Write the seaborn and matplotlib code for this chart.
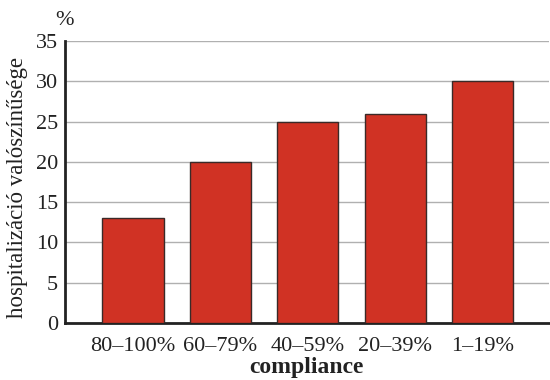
import matplotlib
matplotlib.use("Agg")
import matplotlib.pyplot as plt
import seaborn as sns
import pandas as pd

categories = ["80–100%", "60–79%", "40–59%", "20–39%", "1–19%"]
values = [13, 20, 25, 26, 30]
yticks = [0, 5, 10, 15, 20, 25, 30, 35]

sns.set_theme(style="white")
plt.rcParams["font.family"] = ["Liberation Serif", "DejaVu Serif"]

df = pd.DataFrame({"compliance": categories, "value": values})

fig = plt.figure(figsize=(5.5, 3.8), dpi=100)
ax = fig.add_axes([0.118, 0.15, 0.88, 0.742])

sns.barplot(data=df, x="compliance", y="value", order=categories,
            color="#D03224", saturation=1, width=0.7,
            edgecolor="#3a2a28", linewidth=1.0, ax=ax, zorder=3)

ax.set_ylim(0, 35)
ax.set_xlim(-0.78, 4.76)
ax.set_yticks(yticks)
ax.yaxis.grid(True, color="#b0b0b0", linewidth=1.0, zorder=0)
ax.set_axisbelow(True)

for side in ["top", "right"]:
    ax.spines[side].set_visible(False)
for side in ["left", "bottom"]:
    ax.spines[side].set_color("#222222")
    ax.spines[side].set_linewidth(2.0)

ax.tick_params(axis="both", length=0, labelsize=16, colors="#222222")
ax.tick_params(axis="x", pad=10)
ax.tick_params(axis="y", pad=5)

ax.set_xlabel("compliance", fontsize=17, fontweight="bold", color="#222222")
ax.xaxis.set_label_coords(0.5, -0.122)
ax.set_ylabel("hospitalizáció valószínűsége", fontsize=16.5, color="#222222")
ax.yaxis.set_label_coords(-0.077, 0.48)
fig.text(0.118, 0.945, "%", fontsize=16, color="#222222", ha="center", va="center")

fig.savefig("out.png", dpi=100)
